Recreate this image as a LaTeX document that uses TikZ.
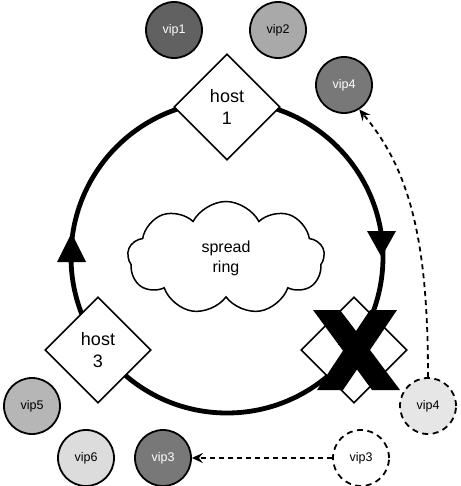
\documentclass[tikz,border=0pt]{standalone}
\usepackage{fontspec}
\setmainfont{Liberation Sans}
\usetikzlibrary{shapes.geometric,shapes.symbols,arrows.meta}
\definecolor{gA}{HTML}{616161}
\definecolor{gB}{HTML}{A9A9A9}
\definecolor{gC}{HTML}{787878}
\definecolor{gD}{HTML}{B6B6B6}
\definecolor{gE}{HTML}{DCDCDC}
\definecolor{gF}{HTML}{E6E6E6}
\begin{document}
\begin{tikzpicture}[x=1pt,y=-1pt,
  hostbox/.style={diamond,draw,line width=1.6pt,fill=white,minimum width=106pt,minimum height=106pt,inner sep=0pt,align=center,font=\fontsize{18}{22}\selectfont},
  vip/.style={circle,draw,line width=1.8pt,minimum size=56pt,inner sep=0pt,font=\fontsize{12.5}{14}\selectfont},
  vipd/.style={vip,dashed,dash pattern=on 6pt off 4.5pt},
  movearrow/.style={line width=1.8pt,dash pattern=on 5pt off 4pt,-{Stealth[length=11pt,width=10pt,inset=4pt]}},
  ringtip/.style={fill=black}
]
\useasboundingbox (0,0) rectangle (460,486);
% ring
\coordinate (rc) at (227,257);
\draw[line width=4.8pt] (rc) circle[radius=156];
\fill[ringtip] (57,262) -- (86,262) -- (71.5,233) -- cycle;
\fill[ringtip] (367,231) -- (396,231) -- (381.5,257) -- cycle;
% cloud
\node[cloud,draw,line width=1.5pt,cloud puffs=9,cloud puff arc=125,aspect=1.75,minimum width=197pt,minimum height=113pt,inner sep=0pt,align=center,font=\fontsize{16}{20}\selectfont] (cloud) at (226,258) {spread\\ring};
% hosts
\node[hostbox] (h1) at (227,107) {host\\1};
\node[hostbox] (h2) at (354,350) {host\\2};
\node[hostbox] (h3) at (98,350) {host\\3};
% cross
\fill (313,310) -- (340,310) -- (356,331) -- (370,310) -- (397,310) -- (370,350) -- (400,390) -- (372,390) -- (357,369.5) -- (343,390) -- (317,390) -- (343,350.7) -- cycle;
% vips
\node[vip,fill=gA,text=white] (v1) at (174,30) {vip1};
\node[vip,fill=gB] (v2) at (278,30) {vip2};
\node[vip,fill=gC,text=white] (v4) at (344,85) {vip4};
\node[vip,fill=gD] (v5) at (32,406) {vip5};
\node[vip,fill=gE] (v6) at (86,458) {vip6};
\node[vip,fill=gC,text=white] (v3) at (163,458) {vip3};
\node[vipd,fill=gF] (v4d) at (428,406) {vip4};
\node[vipd,fill=white] (v3d) at (361,458) {vip3};
% moves
\draw[movearrow] (v4d.north) .. controls (428,240) and (410,170) .. (v4.-58);
\draw[movearrow] (v3d.west) -- (v3.east);
\end{tikzpicture}
\end{document}
